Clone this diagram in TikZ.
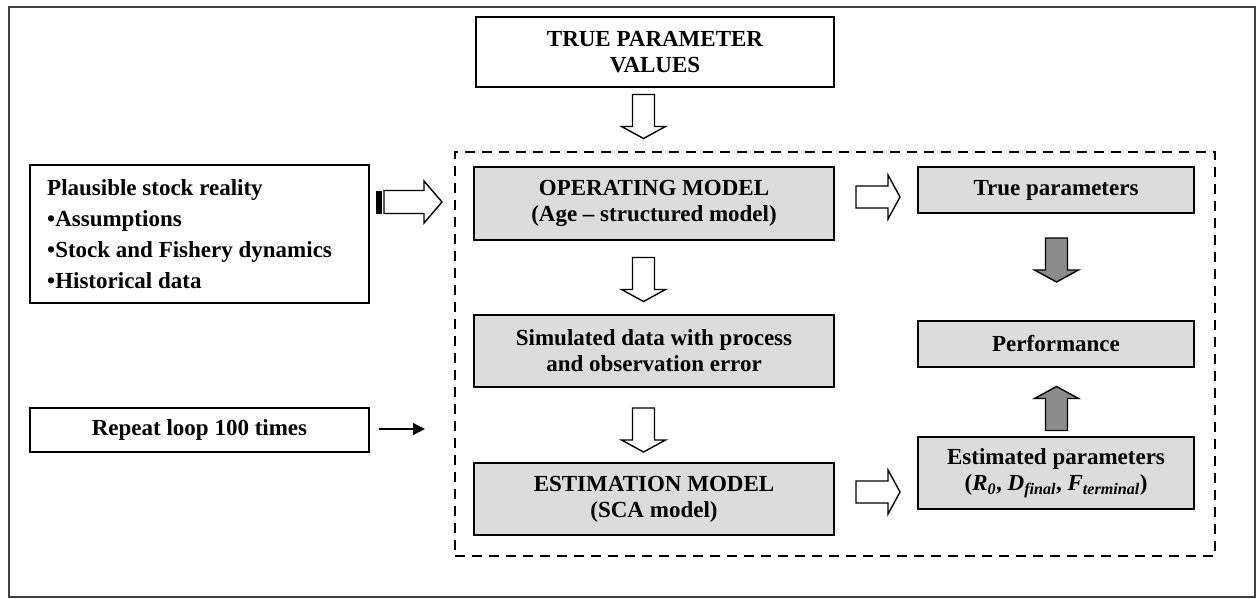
\documentclass[tikz,border=0pt]{standalone}
\usepackage{fontspec}
\setmainfont{Liberation Serif}
\usetikzlibrary{arrows.meta}
\definecolor{boxgray}{RGB}{220,220,220}
\definecolor{arrgray}{RGB}{140,140,140}
\tikzset{
  box/.style={draw=black, line width=1.6pt, minimum width=#1, inner sep=0pt, align=center,
     font=\fontsize{23}{26}\selectfont\bfseries},
  graybox/.style={box=#1, fill=boxgray},
  barrow/.pic={\draw[pic actions, line width=1.4pt, line join=miter]
     (-22,-11) -- (10,-11) -- (10,-22) -- (22,0) -- (10,22) -- (10,11) -- (-22,11) -- cycle;},
  hollow/.style={fill=white},
  solidgray/.style={fill=arrgray}
}
\begin{document}
\begin{tikzpicture}[x=1pt,y=-1pt]
\path[use as bounding box] (0,0) rectangle (1257,599);
\draw[line width=1.5pt, black!75] (9,7) rectangle (1255,597);
% dashed frame
\node[draw=black, line width=2pt, dash pattern=on 10pt off 7pt, minimum width=760pt, minimum height=404pt, inner sep=0pt] (frame) at (835,354) {};
% boxes
\node[box=358pt, minimum height=70pt] (tpv) at (655,52) {TRUE PARAMETER\\VALUES};
\node[box=339pt, minimum height=138pt] (psr) at (199.5,234) {};
\node[anchor=west, align=left, inner sep=0pt, font=\fontsize{23}{31}\selectfont\bfseries] (psrtext) at (47,234)
  {Plausible stock reality\\\textbullet Assumptions\\\textbullet Stock and Fishery dynamics\\\textbullet Historical data};
\node[graybox=360pt, minimum height=73pt] (om) at (654,203.5) {OPERATING MODEL\\(Age -- structured model)};
\node[graybox=360pt, minimum height=72pt] (sim) at (654,351) {Simulated data with process\\and observation error};
\node[graybox=360pt, minimum height=72pt] (em) at (654,499) {ESTIMATION MODEL\\(SCA model)};
\node[graybox=276pt, minimum height=46pt] (tp) at (1056,190) {True parameters};
\node[graybox=276pt, minimum height=46pt] (perf) at (1056,344) {Performance};
\node[graybox=276pt, minimum height=72pt] (est) at (1056,473)
  {Estimated parameters\\(\textit{R\textsubscript{0}}, \textit{D\textsubscript{final}}, \textit{F\textsubscript{terminal}})};
\node[box=339pt, minimum height=44pt] (rep) at (199.5,430) {Repeat loop 100 times};
% block arrows
\pic[rotate=-90, hollow] (a1) at (643.5,116.5) {barrow};
\pic[rotate=-90, hollow] (a2) at (643.5,279.5) {barrow};
\pic[rotate=-90, hollow] (a3) at (643.5,430) {barrow};
\pic[hollow] (a4) at (878,197) {barrow};
\pic[hollow] (a5) at (878,492) {barrow};
\pic[rotate=-90, solidgray] (a6) at (1056.5,260) {barrow};
\pic[rotate=90, solidgray] (a7) at (1056.5,408.5) {barrow};
% striped arrow
\draw[line width=1.4pt, fill=white, line join=miter]
  (384,190.5) -- (424,190.5) -- (424,181) -- (442,202) -- (424,223) -- (424,213.5) -- (384,213.5) -- cycle;
\fill[black] (376,190.5) rectangle (381.5,213.5);
% thin arrow
\coordinate (repend) at (425,429);
\draw[line width=1.3pt, -{Triangle[length=12pt,width=12pt]}, shorten <=9pt] (rep.east |- repend) -- (repend);
\end{tikzpicture}
\end{document}
